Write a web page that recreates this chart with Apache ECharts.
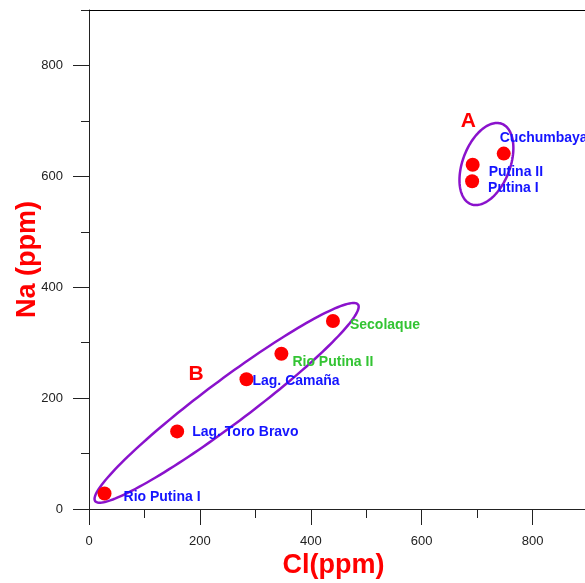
<!DOCTYPE html>
<html>
<head>
<meta charset="utf-8">
<script src="https://cdn.jsdelivr.net/npm/echarts@6/dist/echarts.min.js"></script>
<style>
html,body{margin:0;padding:0;background:#fff;}
#chart{width:585px;height:583px;}
</style>
</head>
<body>
<div id="chart"></div>
<script>
// ---- data ----
const sampleNames = ['Rio Putina I', 'Lag. Toro Bravo', 'Lag. Camaña', 'Rio Putina II', 'Secolaque', 'Cuchumbaya', 'Putina II', 'Putina I'];
const clValues = [28, 159, 284, 347, 440, 748, 692, 691];
const naValues = [28, 140, 234, 280, 339, 641, 621, 591];

const groupNames = ['A', 'B'];
const groupCl = [684, 193];
const groupNa = [700, 243];

// ellipses enclosing the groups (data units): centre, semi-axes, tilt in degrees
const ellipseCenterCl = [716.8, 248.2];
const ellipseCenterNa = [622.2, 191.5];
const ellipseSemiMajor = [77.6, 296];
const ellipseSemiMinor = [42.7, 39.6];
const ellipseAngle = [69, 36.8];

const majorTicks = [0, 200, 400, 600, 800];

// ---- styles ----
const BLUE = '#1414ff', GREEN = '#33c433', RED = '#ff0000', PURPLE = '#8a12cc';
const labelStyle = {
  'Rio Putina I':    {color: BLUE,  offset: [12, 4]},
  'Lag. Toro Bravo': {color: BLUE,  offset: [8, 1]},
  'Lag. Camaña':     {color: BLUE,  offset: [-1, 2]},
  'Rio Putina II':   {color: GREEN, offset: [4, 8]},
  'Secolaque':       {color: GREEN, offset: [10, 4]},
  'Cuchumbaya':      {color: BLUE,  offset: [-11, -15]},
  'Putina II':       {color: BLUE,  offset: [9, 7]},
  'Putina I':        {color: BLUE,  offset: [9, 7]}
};
const FONT = 'Liberation Sans, Arial, Helvetica, sans-serif';
const AXIS_COLOR = '#222';

const sampleData = sampleNames.map((n, i) => ({
  name: n,
  value: [clValues[i], naValues[i]],
  label: {color: labelStyle[n].color, offset: labelStyle[n].offset}
}));
const groupData = groupNames.map((n, i) => ({name: n, value: [groupCl[i], groupNa[i]]}));
const ellipseData = ellipseCenterCl.map((c, i) => [c, ellipseCenterNa[i], ellipseSemiMajor[i], ellipseSemiMinor[i], ellipseAngle[i]]);

const chart = echarts.init(document.getElementById('chart'), null, {renderer: 'canvas'});

const baseAxis = {
  type: 'value', min: 0, max: 900, splitLine: {show: false}
};

chart.setOption({
  animation: false,
  backgroundColor: '#fff',
  grid: {left: 89, top: 10, width: 499, height: 499, containLabel: false, outerBoundsMode: 'none'},
  xAxis: [
    Object.assign({}, baseAxis, {
      position: 'bottom', interval: 100,
      axisLine: {show: true, lineStyle: {color: AXIS_COLOR, width: 1}},
      axisTick: {show: true, length: 9, lineStyle: {color: AXIS_COLOR}},
      axisLabel: {show: false}
    }),
    Object.assign({}, baseAxis, {
      position: 'bottom',
      axisLine: {show: false},
      axisTick: {show: true, length: 16, customValues: majorTicks, lineStyle: {color: AXIS_COLOR}},
      axisLabel: {show: true, customValues: majorTicks, margin: 26, color: '#222', fontSize: 13, fontFamily: FONT},
      name: 'Cl(ppm)', nameLocation: 'middle', nameGap: 43, nameMoveOverlap: false,
      nameTextStyle: {color: RED, fontSize: 27, fontWeight: 'bold', fontFamily: FONT, padding: [0, 10, 0, 0]}
    }),
    Object.assign({}, baseAxis, {
      position: 'top',
      axisLine: {show: true, lineStyle: {color: '#000', width: 1}},
      axisTick: {show: false}, axisLabel: {show: false}
    })
  ],
  yAxis: [
    Object.assign({}, baseAxis, {
      position: 'left', interval: 100,
      axisLine: {show: true, lineStyle: {color: AXIS_COLOR, width: 1}},
      axisTick: {show: true, length: 8, lineStyle: {color: AXIS_COLOR}},
      axisLabel: {show: false}
    }),
    Object.assign({}, baseAxis, {
      position: 'left',
      axisLine: {show: false},
      axisTick: {show: true, length: 16, customValues: majorTicks, lineStyle: {color: AXIS_COLOR}},
      axisLabel: {show: true, customValues: majorTicks, margin: 26, color: '#222', fontSize: 13, fontFamily: FONT},
      name: 'Na (ppm)', nameLocation: 'middle', nameGap: 48, nameMoveOverlap: false,
      nameTextStyle: {color: RED, fontSize: 27, fontWeight: 'bold', fontFamily: FONT}
    })
  ],
  series: [
    {
      type: 'custom', xAxisIndex: 0, yAxisIndex: 0, z: 2, clip: false, silent: true,
      data: ellipseData,
      encode: {x: 0, y: 1},
      renderItem: function (params, api) {
        const cx = api.value(0), cy = api.value(1), a = api.value(2), b = api.value(3);
        const ang = api.value(4) * Math.PI / 180;
        const pts = [];
        const N = 160;
        for (let k = 0; k < N; k++) {
          const t = k / N * 2 * Math.PI;
          const x = cx + a * Math.cos(t) * Math.cos(ang) - b * Math.sin(t) * Math.sin(ang);
          const y = cy + a * Math.cos(t) * Math.sin(ang) + b * Math.sin(t) * Math.cos(ang);
          pts.push(api.coord([x, y]));
        }
        return {type: 'polygon', shape: {points: pts}, style: {fill: 'none', stroke: PURPLE, lineWidth: 2.5}};
      }
    },
    {
      type: 'scatter', xAxisIndex: 0, yAxisIndex: 0, z: 3,
      symbol: 'circle', symbolSize: 14,
      itemStyle: {color: RED, opacity: 1},
      data: sampleData,
      label: {
        show: true, position: 'right', distance: 0, opacity: 1,
        formatter: p => p.name,
        fontSize: 14, fontWeight: 'bold', fontFamily: FONT
      }
    },
    {
      type: 'scatter', xAxisIndex: 0, yAxisIndex: 0, z: 4,
      symbol: 'circle', symbolSize: 1,
      itemStyle: {color: 'rgba(0,0,0,0)', opacity: 1},
      data: groupData,
      label: {
        show: true, position: 'inside', formatter: p => p.name, opacity: 1,
        color: RED, fontSize: 21, fontWeight: 'bold', fontFamily: FONT
      }
    }
  ]
});
</script>
</body>
</html>
